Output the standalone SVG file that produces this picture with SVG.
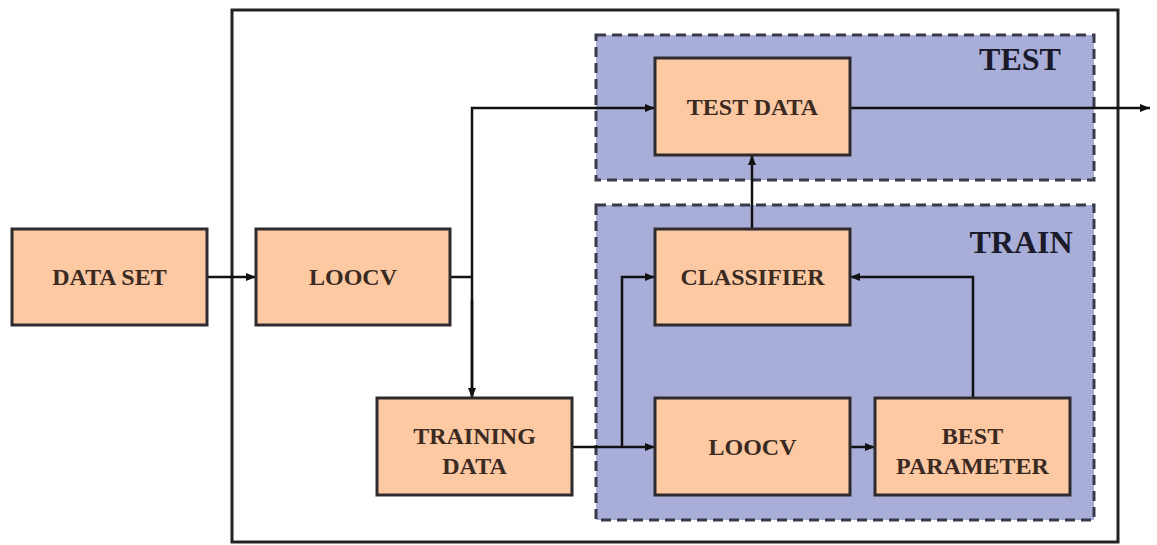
<svg xmlns="http://www.w3.org/2000/svg" width="1157" height="545" viewBox="0 0 1157 545">
<style>
.box{fill:#fcc9a3;stroke:#2e2a2e;stroke-width:3}
.grp{fill:#a9aed9;stroke:#3a3a4a;stroke-width:3;stroke-dasharray:10 6}
.t{font-family:"Liberation Serif",serif;font-weight:bold;font-size:24px;fill:#3a2a22;text-anchor:middle}
.g{font-family:"Liberation Serif",serif;font-weight:bold;font-size:32px;fill:#1a1a2a;text-anchor:middle}
.c{fill:none;stroke:#111;stroke-width:2.5}
</style>
<defs>
<marker id="ah" markerWidth="10" markerHeight="8" refX="10" refY="4" orient="auto" markerUnits="userSpaceOnUse">
<path d="M0,0 L10,4 L0,8 z" fill="#111"/>
</marker>
</defs>
<rect x="0" y="0" width="1157" height="545" fill="#fff"/>
<rect id="frame" x="232" y="10" width="886" height="532" fill="none" stroke="#222" stroke-width="3"/>
<g id="test-group">
<rect class="grp" x="596" y="35" width="498" height="145"/>
<text class="g" x="1020" y="70">TEST</text>
</g>
<g id="train-group">
<rect class="grp" x="596" y="205" width="498" height="315"/>
<text class="g" x="1021" y="253">TRAIN</text>
</g>
<g id="connectors">
<line class="c" x1="207" y1="277" x2="256" y2="277" marker-end="url(#ah)"/>
<polyline class="c" points="450,277 472,277"/>
<polyline class="c" points="472,398 472,108 655,108" marker-end="url(#ah)"/>
<line class="c" x1="472" y1="300" x2="472" y2="398" marker-end="url(#ah)"/>
<line class="c" x1="850" y1="108" x2="1150" y2="108" marker-end="url(#ah)"/>
<line class="c" x1="752" y1="229" x2="752" y2="155" marker-end="url(#ah)"/>
<line class="c" x1="572" y1="447" x2="655" y2="447" marker-end="url(#ah)"/>
<polyline class="c" points="622,447 622,277 655,277" marker-end="url(#ah)"/>
<line class="c" x1="850" y1="447" x2="875" y2="447" marker-end="url(#ah)"/>
<polyline class="c" points="973,398 973,277 850,277" marker-end="url(#ah)"/>
</g>
<g id="data-set">
<rect class="box" x="12" y="229" width="195" height="96"/>
<text class="t" x="109.5" y="285">DATA SET</text>
</g>
<g id="loocv-outer">
<rect class="box" x="256" y="229" width="194" height="96"/>
<text class="t" x="353" y="285">LOOCV</text>
</g>
<g id="test-data">
<rect class="box" x="655" y="58" width="195" height="97"/>
<text class="t" x="752.5" y="115">TEST DATA</text>
</g>
<g id="classifier">
<rect class="box" x="655" y="229" width="195" height="96"/>
<text class="t" x="752.5" y="285">CLASSIFIER</text>
</g>
<g id="training-data">
<rect class="box" x="377" y="398" width="195" height="97"/>
<text class="t" x="474.5" y="444">TRAINING</text>
<text class="t" x="474.5" y="474">DATA</text>
</g>
<g id="loocv-inner">
<rect class="box" x="655" y="398" width="195" height="97"/>
<text class="t" x="752.5" y="455">LOOCV</text>
</g>
<g id="best-parameter">
<rect class="box" x="875" y="398" width="195" height="97"/>
<text class="t" x="972.5" y="444">BEST</text>
<text class="t" x="972.5" y="474">PARAMETER</text>
</g>
</svg>
